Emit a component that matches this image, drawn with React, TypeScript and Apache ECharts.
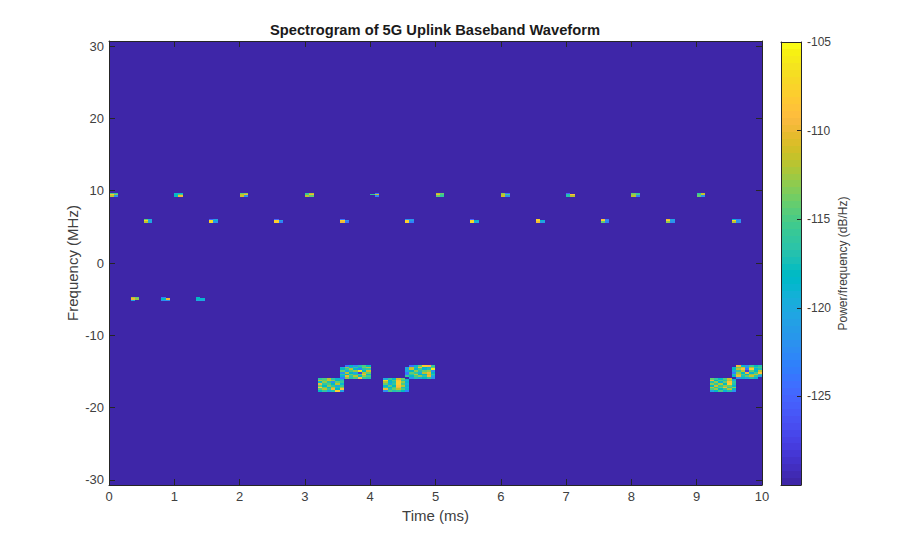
import React, { useRef, useEffect } from 'react'
import * as echarts from 'echarts'

const parula = [
  [0.2422, 0.1504, 0.6603], [0.2504, 0.165, 0.7076], [0.2578, 0.1818, 0.7511], [0.2647, 0.1978, 0.7952],
  [0.2706, 0.2147, 0.8364], [0.2751, 0.2342, 0.871], [0.2783, 0.2559, 0.8991], [0.2803, 0.2782, 0.9221],
  [0.2813, 0.3006, 0.9414], [0.281, 0.3228, 0.9579], [0.2795, 0.3447, 0.9717], [0.276, 0.3667, 0.9829],
  [0.2699, 0.3892, 0.9906], [0.2602, 0.4123, 0.9952], [0.244, 0.4358, 0.9988], [0.2206, 0.4603, 0.9973],
  [0.1963, 0.4847, 0.9892], [0.1834, 0.5074, 0.9798], [0.1786, 0.5289, 0.9682], [0.1764, 0.5499, 0.952],
  [0.1687, 0.5703, 0.9359], [0.154, 0.5902, 0.9218], [0.146, 0.6091, 0.9079], [0.138, 0.6276, 0.8973],
  [0.1248, 0.6459, 0.8883], [0.1113, 0.6635, 0.8763], [0.0952, 0.6798, 0.8598], [0.0689, 0.6948, 0.8394],
  [0.0297, 0.7082, 0.8163], [0.0036, 0.7203, 0.7917], [0.0067, 0.7312, 0.766], [0.0433, 0.7411, 0.7394],
  [0.0964, 0.75, 0.712], [0.1408, 0.7584, 0.6842], [0.1717, 0.767, 0.6554], [0.1938, 0.7758, 0.6251],
  [0.2161, 0.7843, 0.5923], [0.247, 0.7918, 0.5567], [0.2906, 0.7973, 0.5188], [0.3406, 0.8008, 0.4789],
  [0.3909, 0.8029, 0.4354], [0.4456, 0.8024, 0.3909], [0.5044, 0.7993, 0.348], [0.5616, 0.7942, 0.3045],
  [0.6174, 0.7876, 0.2612], [0.672, 0.7793, 0.2227], [0.7242, 0.7698, 0.191], [0.7738, 0.7598, 0.1646],
  [0.8203, 0.7498, 0.1535], [0.8634, 0.7406, 0.1596], [0.9035, 0.733, 0.1774], [0.9393, 0.7288, 0.21],
  [0.9728, 0.7298, 0.2394], [0.9956, 0.7434, 0.2371], [0.997, 0.7659, 0.2199], [0.9952, 0.7861, 0.199],
  [0.9892, 0.8066, 0.1818], [0.9786, 0.8271, 0.1633], [0.9676, 0.8481, 0.1477], [0.961, 0.8705, 0.1347],
  [0.9597, 0.8949, 0.1185], [0.9628, 0.9204, 0.0956], [0.9691, 0.9466, 0.0687], [0.9769, 0.9839, 0.0805],
]

const freqLimit = 30.72
const powerMin = -130
const powerMax = -105
const timeTicks = [0, 1, 2, 3, 4, 5, 6, 7, 8, 9, 10]
const freqTicks = [-30, -20, -10, 0, 10, 20, 30]
const powerTicks = [-125, -120, -115, -110, -105]

const cellTime = 0.0667
const pulseCellFreq = 0.185
const blockCellFreq = 0.24

// control pulses, rows top to bottom, two time cells each
const upperPulseFreq = 9.75
const upperPulseTimes = [0.01, 0.995, 2.0, 3.0, 4.0, 5.0, 6.0, 7.0, 8.0, 9.0]
const upperPulses = [
  [[-115, -116], [-109, -113], [-112, -122]],
  [[-119, -119], [-118, -115], [-118, -110]],
  [[-114, -113], [-112, -110], [-111, -122]],
  [[-116, -112], [-115, -110], [-112, -114]],
  [[-130, -124], [-116, -111], [-130, -123]],
  [[-112, -114], [-110, -115], [-114, -116]],
  [[-113, -124], [-112, -115], [-111, -122]],
  [[-125, -130], [-117, -109], [-117, -112]],
  [[-114, -116], [-113, -115], [-112, -123]],
  [[-116, -112], [-115, -111], [-114, -122]],
]
const middlePulseFreq = 6.15
const middlePulseTimes = [0.53, 1.53, 2.53, 3.54, 4.53, 5.53, 6.54, 7.53, 8.53, 9.54]
const middlePulses = [
  [[-114, -120], [-107, -121], [-112, -120]],
  [[-125, -121], [-107, -119], [-107, -122]],
  [[-125, -130], [-108, -121], [-108, -123]],
  [[-124, -130], [-108, -122], [-110, -124]],
  [[-122, -122], [-108, -121], [-108, -123]],
  [[-125, -130], [-108, -118], [-107, -120]],
  [[-108, -130], [-107, -119], [-110, -121]],
  [[-109, -124], [-108, -122], [-114, -123]],
  [[-110, -121], [-108, -121], [-113, -122]],
  [[-119, -123], [-107, -122], [-112, -122]],
]
const lowerPulseFreq = -4.7
const lowerPulseTimes = [0.33, 0.8, 1.33]
const lowerPulses = [
  [[-112, -114], [-110, -113], [-120, -130]],
  [[-124, -130], [-118, -110], [-122, -122]],
  [[-118, -130], [-118, -119], [-120, -120]],
]

// data bursts, rows top to bottom
const lowBurstFreq = -15.9
const highBurstFreq = -14.1
const lowBurstTimes = [3.2, 4.2, 9.2]
const highBurstTimes = [3.54, 4.53, 9.54]
const lowBursts = [
  [
    [-116, -115, -112, -116, -119, -120],
    [-112, -114, -111, -113, -118, -117],
    [-119, -113, -117, -122, -114, -116],
    [-110, -116, -115, -118, -112, -119],
    [-114, -118, -113, -116, -120, -116],
    [-108, -114, -119, -112, -117, -113],
    [-115, -112, -116, -110, -118, -109],
    [-118, -116, -120, -117, -108, -121],
  ],
  [
    [-120, -116, -118, -111, -114, -118],
    [-107, -118, -115, -109, -116, -120],
    [-112, -119, -117, -108, -113, -119],
    [-114, -120, -116, -108, -115, -120],
    [-119, -114, -118, -109, -112, -119],
    [-116, -119, -115, -110, -117, -120],
    [-110, -117, -114, -112, -115, -119],
    [-122, -115, -117, -116, -118, -123],
  ],
  [
    [-114, -116, -118, -115, -111, -119],
    [-110, -118, -115, -117, -112, -120],
    [-117, -113, -119, -114, -109, -116],
    [-113, -116, -112, -118, -108, -117],
    [-118, -111, -116, -113, -114, -119],
    [-112, -117, -114, -110, -116, -113],
    [-115, -113, -118, -116, -112, -118],
    [-121, -118, -115, -119, -117, -122],
  ],
]
const highBursts = [
  [
    [-130, -124, -118, -122, -117, -115, -118],
    [-120, -113, -121, -116, -119, -114, -112],
    [-118, -116, -112, -119, -123, -117, -116],
    [-114, -120, -115, -113, -106, -118, -111],
    [-122, -112, -118, -120, -128, -112, -114],
    [-116, -118, -114, -117, -115, -110, -119],
    [-119, -110, -116, -112, -118, -113, -115],
    [-124, -113, -117, -115, -109, -116, -117],
  ],
  [
    [-130, -124, -119, -114, -108, -109, -116],
    [-120, -112, -117, -110, -118, -120, -114],
    [-120, -111, -119, -115, -119, -117, -106],
    [-120, -118, -113, -117, -114, -113, -122],
    [-124, -114, -116, -120, -112, -110, -118],
    [-123, -116, -112, -118, -119, -111, -116],
    [-116, -118, -115, -113, -116, -110, -120],
    [-130, -122, -117, -120, -118, -116, -122],
  ],
  [
    [-130, -110, -119, -122, -116, -118, -117],
    [-119, -114, -111, -120, -112, -116, -115],
    [-118, -112, -109, -124, -108, -119, -117],
    [-120, -116, -112, -128, -114, -118, -112],
    [-123, -113, -118, -110, -119, -115, -109],
    [-117, -111, -115, -118, -113, -112, -116],
    [-119, -110, -117, -114, -111, -116, -121],
    [-130, -122, -119, -120, -117, -119, -130],
  ],
]

const colorOf = (value: number) => {
  const ratio = (value - powerMin) / (powerMax - powerMin)
  const index = Math.max(0, Math.min(parula.length - 1, Math.floor(ratio * parula.length)))
  const [r, g, b] = parula[index]
  return `rgb(${Math.round(r * 255)},${Math.round(g * 255)},${Math.round(b * 255)})`
}

// flatten a patch of rows into [t0, t1, f0, f1, value] cells
const patchCells = (time: number, freq: number, rows: number[][], cellFreq: number) =>
  rows.flatMap((row, r) =>
    row.map((value, c) => [
      time + c * cellTime,
      time + (c + 1) * cellTime,
      freq - r * cellFreq,
      freq - (r + 1) * cellFreq,
      value,
    ])
  )

const spectrogramCells = [
  ...upperPulses.flatMap((rows, i) => patchCells(upperPulseTimes[i], upperPulseFreq, rows, pulseCellFreq)),
  ...middlePulses.flatMap((rows, i) => patchCells(middlePulseTimes[i], middlePulseFreq, rows, pulseCellFreq)),
  ...lowerPulses.flatMap((rows, i) => patchCells(lowerPulseTimes[i], lowerPulseFreq, rows, pulseCellFreq)),
  ...lowBursts.flatMap((rows, i) => patchCells(lowBurstTimes[i], lowBurstFreq, rows, blockCellFreq)),
  ...highBursts.flatMap((rows, i) => patchCells(highBurstTimes[i], highBurstFreq, rows, blockCellFreq)),
]

const colorbarCells = parula.map((_, i) => {
  const step = (powerMax - powerMin) / parula.length
  return [0, 1, powerMin + i * step, powerMin + (i + 1) * step, powerMin + (i + 0.5) * step]
})

const renderCell = (_params: any, api: any) => {
  const a = api.coord([api.value(0), api.value(2)])
  const b = api.coord([api.value(1), api.value(3)])
  const x = Math.round(Math.min(a[0], b[0]))
  const y = Math.round(Math.min(a[1], b[1]))
  return {
    type: 'rect',
    shape: {
      x,
      y,
      width: Math.round(Math.max(a[0], b[0])) - x,
      height: Math.max(1, Math.round(Math.max(a[1], b[1])) - y),
    },
    style: { fill: colorOf(api.value(4)) },
  }
}

const textColor = '#404040'
const lineColor = '#262626'
const fontFamily = '"Liberation Sans", Arial, sans-serif'

const App: React.FC = () => {
  const chartRef = useRef<HTMLDivElement>(null)

  useEffect(() => {
    if (!chartRef.current) return
    const chart = echarts.init(chartRef.current, undefined, { renderer: 'svg' })

    const axisLine = { show: true, onZero: false, lineStyle: { color: lineColor, width: 1 } }
    const tickStyle = { color: lineColor, width: 1 }
    const frameAxis = (extra: any) => ({
      type: 'value',
      z: 5,
      axisLine,
      splitLine: { show: false },
      axisLabel: { show: false },
      axisTick: { show: false },
      ...extra,
    })

    chart.setOption({
      animation: false,
      backgroundColor: '#ffffff',
      textStyle: { fontFamily },
      title: {
        text: 'Spectrogram of 5G Uplink Baseband Waveform',
        left: 430,
        top: 17,
        textAlign: 'center',
        textStyle: { fontSize: 14.7, fontWeight: 'bold', color: '#1a1a1a', fontFamily },
      },
      grid: [
        { left: 109, top: 41, width: 653, height: 444, show: true, backgroundColor: colorOf(powerMin), borderWidth: 0 },
        { left: 781, top: 42, width: 20, height: 443 },
      ],
      xAxis: [
        frameAxis({
          gridIndex: 0,
          min: 0,
          max: 10,
          name: 'Time (ms)',
          nameLocation: 'middle',
          nameGap: 23,
          nameMoveOverlap: false,
          nameTextStyle: { fontSize: 15, color: textColor },
          axisTick: { show: true, inside: true, length: 6, lineStyle: tickStyle, customValues: timeTicks },
          axisLabel: { fontSize: 13, color: textColor, margin: 5, customValues: timeTicks, hideOverlap: false },
        }),
        frameAxis({
          gridIndex: 0,
          position: 'top',
          min: 0,
          max: 10,
          axisTick: { show: true, inside: true, length: 6, lineStyle: tickStyle, customValues: timeTicks },
        }),
        frameAxis({ gridIndex: 1, min: 0, max: 1 }),
        frameAxis({ gridIndex: 1, position: 'top', min: 0, max: 1 }),
      ],
      yAxis: [
        frameAxis({
          gridIndex: 0,
          min: -freqLimit,
          max: freqLimit,
          name: 'Frequency (MHz)',
          nameLocation: 'middle',
          nameGap: 29,
          nameMoveOverlap: false,
          nameTextStyle: { fontSize: 15, color: textColor },
          axisTick: { show: true, inside: true, length: 6, lineStyle: tickStyle, customValues: freqTicks },
          axisLabel: { fontSize: 13, color: textColor, margin: 5, customValues: freqTicks },
        }),
        frameAxis({
          gridIndex: 0,
          position: 'right',
          min: -freqLimit,
          max: freqLimit,
          axisTick: { show: true, inside: true, length: 6, lineStyle: tickStyle, customValues: freqTicks },
        }),
        frameAxis({
          gridIndex: 1,
          position: 'right',
          min: powerMin,
          max: powerMax,
          name: 'Power/frequency (dB/Hz)',
          nameLocation: 'middle',
          nameGap: 36,
          nameMoveOverlap: false,
          nameTextStyle: { fontSize: 12, color: textColor },
          axisTick: { show: true, inside: true, length: 4, lineStyle: tickStyle, customValues: powerTicks },
          axisLabel: { fontSize: 12, color: textColor, margin: 6, customValues: powerTicks },
        }),
        frameAxis({ gridIndex: 1, position: 'left', min: powerMin, max: powerMax }),
      ],
      series: [
        {
          name: 'Spectrogram',
          type: 'custom',
          xAxisIndex: 0,
          yAxisIndex: 0,
          renderItem: renderCell,
          data: spectrogramCells,
          encode: { x: [0, 1], y: [2, 3] },
          clip: true,
          z: 1,
        },
        {
          name: 'Colorbar',
          type: 'custom',
          xAxisIndex: 2,
          yAxisIndex: 2,
          renderItem: renderCell,
          data: colorbarCells,
          encode: { x: [0, 1], y: [2, 3] },
          z: 1,
        },
      ],
    })

    return () => {
      chart.dispose()
    }
  }, [])

  return <div ref={chartRef} style={{ position: 'absolute', left: 0, top: 0, width: 908, height: 546 }} />
}

export default App
